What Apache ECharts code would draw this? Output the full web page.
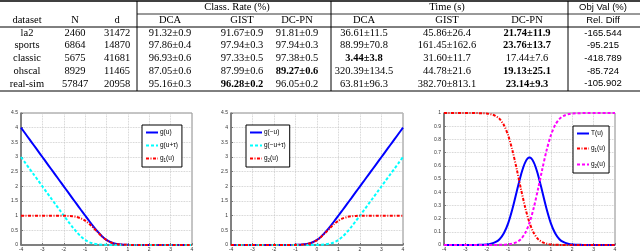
<!DOCTYPE html>
<html><head><meta charset="utf-8">
<script src="https://cdn.jsdelivr.net/npm/echarts@6/dist/echarts.min.js"></script>
<style>html,body{margin:0;padding:0;background:#fff}#c{width:640px;height:252px}</style>
</head><body><div id="c"></div>
<script>
// ---------- table data ----------
const datasets = ['la2','sports','classic','ohscal','real-sim'];
const sizeN = ['2460','6864','5675','8929','57847'];
const dimD = ['31472','14870','41681','11465','20958'];
const rateDCA = ['91.32±0.9','97.86±0.4','96.93±0.6','87.05±0.6','95.16±0.3'];
const rateGIST = ['91.67±0.9','97.94±0.3','97.33±0.5','87.99±0.6','96.28±0.2'];
const rateDCPN = ['91.81±0.9','97.94±0.3','97.38±0.5','89.27±0.6','96.05±0.2'];
const timeDCA = ['36.61±11.5','88.99±70.8','3.44±3.8','320.39±134.5','63.81±96.3'];
const timeGIST = ['45.86±26.4','161.45±162.6','31.60±11.7','44.78±21.6','382.70±813.1'];
const timeDCPN = ['21.74±11.9','23.76±13.7','17.44±7.6','19.13±25.1','23.14±9.3'];
const relDiff = ['-165.544','-95.215','-418.789','-85.724','-105.902'];
const boldCells = {rateDCPN:[3], rateGIST:[4], timeDCA:[2], timeDCPN:[0,1,3,4]};
const groupHeaders = ['Class. Rate (%)','Time (s)','Obj Val (%)'];
const colHeaders = ['dataset','N','d','DCA','GIST','DC-PN','DCA','GIST','DC-PN','Rel. Diff'];

// ---------- plot data ----------
const uVals = [-4,-3.8,-3.6,-3.4,-3.2,-3,-2.8,-2.6,-2.4,-2.2,-2,-1.8,-1.6,-1.4,-1.2,-1,-0.8,-0.6,-0.4,-0.2,0,0.2,0.4,0.6,0.8,1,1.2,1.4,1.6,1.8,2,2.2,2.4,2.6,2.8,3,3.2,3.4,3.6,3.8,4];
const gU =   [4,3.8,3.6,3.4,3.2,3,2.8,2.6,2.4,2.2,2,1.8,1.6,1.401,1.202,1.005,0.81,0.622,0.446,0.293,0.173,0.093,0.046,0.022,0.01,0.005,0.002,0.001,0,0,0,0,0,0,0,0,0,0,0,0,0];
const gUt =  [3,2.8,2.6,2.4,2.2,2,1.8,1.6,1.401,1.202,1.005,0.81,0.622,0.446,0.293,0.173,0.093,0.046,0.022,0.01,0.005,0.002,0.001,0,0,0,0,0,0,0,0,0,0,0,0,0,0,0,0,0,0];
const g1U =  [1,1,1,1,1,1,1,1,0.999,0.998,0.996,0.99,0.979,0.955,0.909,0.831,0.717,0.576,0.424,0.283,0.169,0.091,0.045,0.021,0.01,0.004,0.002,0.001,0,0,0,0,0,0,0,0,0,0,0,0,0];
const gNegU =  [0,0,0,0,0,0,0,0,0,0,0,0,0,0.001,0.002,0.005,0.01,0.022,0.046,0.093,0.173,0.293,0.446,0.622,0.81,1.005,1.202,1.401,1.6,1.8,2,2.2,2.4,2.6,2.8,3,3.2,3.4,3.6,3.8,4];
const gNegUt = [0,0,0,0,0,0,0,0,0,0,0,0,0,0,0,0,0,0,0.001,0.002,0.005,0.01,0.022,0.046,0.093,0.173,0.293,0.446,0.622,0.81,1.005,1.202,1.401,1.6,1.8,2,2.2,2.4,2.6,2.8,3];
const g2U =  [0,0,0,0,0,0,0,0,0,0,0,0,0,0.001,0.002,0.004,0.01,0.021,0.045,0.091,0.169,0.283,0.424,0.576,0.717,0.831,0.909,0.955,0.979,0.99,0.996,0.998,0.999,1,1,1,1,1,1,1,1];
const tU =   [0,0,0,0,0,0,0,0,0.001,0.002,0.004,0.01,0.021,0.044,0.089,0.164,0.273,0.403,0.531,0.626,0.662,0.626,0.531,0.403,0.273,0.164,0.089,0.044,0.021,0.01,0.004,0.002,0.001,0,0,0,0,0,0,0,0];
const xTicks = {min:-4, max:4, step:1};
const yTicksA = {min:0, max:4.5, step:0.5};
const yTicksB = {min:0, max:1, step:0.1};

// ---------- layout ----------
const colX = [27,75,117,170,242,297,364,447,527,603];
const groupX = [237,447,603];
const yGroup = 7, yHead = 20, yRow0 = 33, rowH = 12.7;
const SERIF = '"Liberation Serif", "Times New Roman", serif';
const SANS = '"Liberation Sans", Arial, sans-serif';

const graphics = [];
function txt(t, x, y, opt) {
  opt = opt || {};
  graphics.push({type:'text', x:x, y:y, silent:true, style:{text:t, align:'center', verticalAlign:'middle',
    fontSize: opt.size || 10.5, fontFamily: opt.family || SERIF, fontWeight: opt.bold ? 'bold' : 'normal', fill:'#000'}});
}
function ln(x1,y1,x2,y2,w){ graphics.push({type:'line', silent:true, shape:{x1,y1,x2,y2}, style:{stroke:'#000', lineWidth:w||1}}); }

groupHeaders.forEach((h,i)=>txt(h, groupX[i], yGroup, {family: i===2?SANS:SERIF, size: i===2?9.5:10.5}));
colHeaders.forEach((h,i)=>txt(h, colX[i], yHead, {family: i===9?SANS:SERIF, size: i===9?9.5:10.5}));
const cols = [['datasets',datasets],['sizeN',sizeN],['dimD',dimD],['rateDCA',rateDCA],['rateGIST',rateGIST],['rateDCPN',rateDCPN],['timeDCA',timeDCA],['timeGIST',timeGIST],['timeDCPN',timeDCPN],['relDiff',relDiff]];
cols.forEach(([key,arr],ci)=>{
  arr.forEach((v,ri)=>{
    const b = (boldCells[key]||[]).indexOf(ri) >= 0;
    txt(v, colX[ci], yRow0 + ri*rowH, {bold:b, family: ci===9?SANS:SERIF, size: ci===9?9.5:10.5});
  });
});
ln(0,1,640,1,1.5);
ln(137,14,640,14,0.8);
ln(0,27,640,27,1);
ln(0,91,640,91,1);
[137,331,568].forEach(x=>ln(x,1,x,91,1));

// ---------- plots ----------
const grids = [
  {left:21, top:113, width:171, height:134},
  {left:231, top:113, width:172, height:134},
  {left:444, top:113, width:171, height:134}
];
function fmt(v){ return String(+v.toFixed(2)); }
function xAxis(gi){ return {type:'value', gridIndex:gi, min:xTicks.min, max:xTicks.max, interval:xTicks.step,
  axisLine:{show:true, onZero:false, lineStyle:{color:'#6a6a6a', width:1.5}},
  axisTick:{show:true, inside:true, length:2, lineStyle:{color:'#777'}},
  axisLabel:{fontSize:5, margin:2, color:'#333', fontFamily:SANS, formatter:fmt},
  splitLine:{show:true, lineStyle:{type:'dotted', color:'#c4c4c4', width:0.8}}}; }
function yAxis(gi, t){ return {type:'value', gridIndex:gi, min:t.min, max:t.max, interval:t.step,
  axisLine:{show:true, onZero:false, lineStyle:{color:'#6a6a6a', width:1.5}},
  axisTick:{show:true, inside:true, length:2, lineStyle:{color:'#777'}},
  axisLabel:{fontSize:5, margin:3, color:'#333', fontFamily:SANS, formatter:fmt},
  splitLine:{show:true, lineStyle:{type:'dotted', color:'#c4c4c4', width:0.8}}}; }

const BLUE='#0000ff', CYAN='#00ffff', RED='#ff0000', MAG='#ff00ff';
function ser(name, gi, ys, color, type, w){
  return {type:'line', name:name, xAxisIndex:gi, yAxisIndex:gi, symbol:'none', smooth:0.3, animation:false,
    data: uVals.map((u,i)=>[u, ys[i]]), lineStyle:{color:color, width:w, type:type}, itemStyle:{color:color}};
}
const DASH=[3,2], DASHDOT=[3,1.5,1,1.5];
const series = [
  ser('g(u)',0,gU,BLUE,'solid',2),
  ser('g(u+τ)',0,gUt,CYAN,DASH,2),
  ser('g1(u)',0,g1U,RED,DASHDOT,2),
  ser('g(−u)',1,gNegU,BLUE,'solid',2),
  ser('g(−u+τ)',1,gNegUt,CYAN,DASH,2),
  ser('g2(u)',1,g2U,RED,DASHDOT,2),
  ser('T(u)',2,tU,BLUE,'solid',2),
  ser('g1(u) ',2,g1U,RED,DASHDOT,2),
  ser('g2(u) ',2,g2U,MAG,DASH,2)
];
function legFmt(name){ const n=name.trim(); const m=n.match(/^g([12])\(u\)$/); return m ? 'g{s|'+m[1]+'}(u)' : n; }
function legend(names, left, top, gap){ return {show:true, orient:'vertical', left:left, top:top, data:names,
  itemWidth:12, itemHeight:6, itemGap:gap, padding:[4,4,4,3], borderColor:'#000', borderWidth:1, backgroundColor:'#fff',
  selectedMode:false, formatter:legFmt, itemStyle:{color:'transparent', borderColor:'transparent', borderWidth:0, opacity:0},
  textStyle:{fontSize:6.5, fontFamily:SANS, color:'#000', padding:[0,0,0,-3], rich:{s:{fontSize:4.5, fontFamily:SANS, padding:[4,0,0,0]}}}}; }

const chart = echarts.init(document.getElementById('c'), null, {renderer:'canvas'});
chart.setOption({
  animation:false,
  backgroundColor:'#fff',
  grid: grids.map(g=>Object.assign({show:true, borderColor:'#8a8a8a', borderWidth:1, containLabel:false}, g)),
  xAxis:[xAxis(0),xAxis(1),xAxis(2)],
  yAxis:[yAxis(0,yTicksA),yAxis(1,yTicksA),yAxis(2,yTicksB)],
  legend:[legend(['g(u)','g(u+τ)','g1(u)'],142,125,6), legend(['g(−u)','g(−u+τ)','g2(u)'],246,125,6), legend(['T(u)','g1(u) ','g2(u) '],573,126,8)],
  series: series,
  graphic: graphics
});
</script></body></html>
